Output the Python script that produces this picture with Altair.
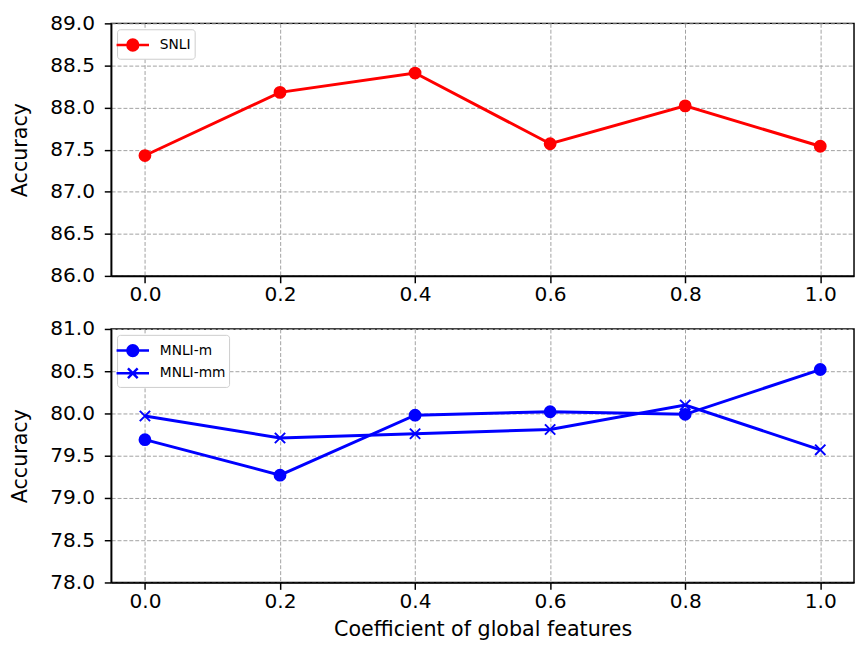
import altair as alt
import pandas as pd

# ---- data ----
coef = [0.0, 0.2, 0.4, 0.6, 0.8, 1.0]
snli = [87.43, 88.18, 88.41, 87.57, 88.02, 87.54]
mnli_m = [79.69, 79.27, 79.98, 80.02, 79.99, 80.52]
mnli_mm = [79.97, 79.71, 79.76, 79.81, 80.10, 79.57]
top_ticks = [86.0, 86.5, 87.0, 87.5, 88.0, 88.5, 89.0]
bot_ticks = [78.0, 78.5, 79.0, 79.5, 80.0, 80.5, 81.0]
top_series = ["SNLI"]
bot_series = ["MNLI-m", "MNLI-mm"]
x_title = "Coefficient of global features"

top_df = pd.DataFrame({"coef": coef, "acc": snli, "series": top_series * len(coef)})
bot_df = pd.DataFrame({
    "coef": coef * 2,
    "acc": mnli_m + mnli_mm,
    "series2": [bot_series[0]] * len(coef) + [bot_series[1]] * len(coef),
})

FONT = "DejaVu Sans"
RED = "#ff0000"
BLUE = "#0000ff"
X_PATH = "M-1,-1L1,1M-1,1L1,-1"
LEG_CIRCLE = "M-1.5,0H1.5M0.5,0A0.5,0.5 0 1,1 -0.5,0A0.5,0.5 0 1,1 0.5,0Z"
LEG_X = "M-1.5,0H1.5M-0.45,-0.45L0.45,0.45M-0.45,0.45L0.45,-0.45"

W, H1, H2 = 756, 257, 258


def x_enc(title=None):
    return alt.X(
        "coef:Q",
        scale=alt.Scale(domain=[-0.05, 1.05], nice=False, zero=False),
        axis=alt.Axis(values=coef, format=".1f", title=title, titlePadding=7),
    )


def y_enc(domain, ticks):
    return alt.Y(
        "acc:Q",
        scale=alt.Scale(domain=domain, nice=False, zero=False),
        axis=alt.Axis(values=ticks, format=".1f", title="Accuracy",
                      labelPadding=10, titlePadding=20),
    )


def legend():
    return alt.Legend(
        title=None, orient="top-left", offset=6, padding=3.5, rowPadding=0,
        labelFont=FONT, labelFontSize=14, labelColor="#000000",
        symbolSize=484, symbolStrokeWidth=2.5, symbolOpacity=1, labelOffset=15,
        fillColor="white", strokeColor="#cccccc", cornerRadius=3,
    )


# ---- top panel ----
yt = y_enc([86, 89], top_ticks)
t_line = alt.Chart().mark_line(color=RED, strokeWidth=3).encode(x=x_enc(), y=yt)
t_pts = alt.Chart().mark_point(shape="circle", filled=True, size=170, color=RED, opacity=1).encode(
    x=x_enc(), y=yt)
t_leg = alt.Chart().mark_point(filled=True, fill=RED, stroke=RED, strokeWidth=2.5, opacity=0).encode(
    x=x_enc(), y=yt,
    shape=alt.Shape("series:N", scale=alt.Scale(domain=top_series, range=[LEG_CIRCLE]),
                    legend=legend()))
top = alt.layer(t_line, t_pts, t_leg, data=top_df).properties(width=W, height=H1)

# ---- bottom panel ----
yb = y_enc([78, 81], bot_ticks)
b_line = alt.Chart().mark_line(color=BLUE, strokeWidth=3).encode(
    x=x_enc(x_title), y=yb, detail="series2:N")
b_pts_m = alt.Chart().transform_filter(alt.datum.series2 == bot_series[0]).mark_point(
    shape="circle", filled=True, size=170, color=BLUE, opacity=1).encode(
    x=x_enc(x_title), y=yb)
b_pts_mm = alt.Chart().transform_filter(alt.datum.series2 == bot_series[1]).mark_point(
    shape=X_PATH, filled=False, size=110, color=BLUE, strokeWidth=2, opacity=1).encode(
    x=x_enc(x_title), y=yb)
b_leg = alt.Chart().mark_point(filled=True, fill=BLUE, stroke=BLUE, strokeWidth=2.5, opacity=0).encode(
    x=x_enc(x_title), y=yb,
    shape=alt.Shape("series2:N", scale=alt.Scale(domain=bot_series, range=[LEG_CIRCLE, LEG_X]),
                    legend=legend()))
bottom = alt.layer(b_line, b_pts_m, b_pts_mm, b_leg, data=bot_df).properties(width=W, height=H2)

chart = alt.vconcat(top, bottom, spacing=12).resolve_scale(shape="independent").properties(
    padding={"left": 0, "top": -1, "right": 0, "bottom": 0}
).configure_view(
    stroke="black", strokeWidth=1.5
).configure_axis(
    labelFont=FONT, labelFontSize=20.5, labelColor="#000000",
    titleFont=FONT, titleFontSize=21, titleFontWeight="normal", titleColor="#000000",
    domainColor="black", domainWidth=1.5, tickColor="black", tickWidth=1.5, tickSize=7,
    grid=True, gridColor="#a0a0a0", gridDash=[4, 2], gridWidth=1,
)

chart.save("out.html", embed_options={"renderer": "svg", "actions": False})
